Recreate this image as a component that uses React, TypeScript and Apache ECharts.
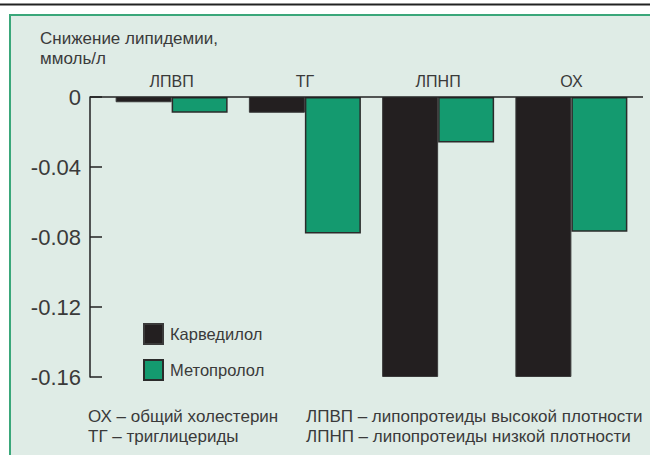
import React, { useEffect, useRef } from "react";
import * as echarts from "echarts";

const categories = ["ЛПВП", "ТГ", "ЛПНП", "ОХ"];
const carvedilol = [-0.003, -0.009, -0.16, -0.16];
const metoprolol = [-0.009, -0.078, -0.026, -0.077];
const seriesNames = ["Карведилол", "Метопролол"];
const yTicks = { min: -0.16, max: 0, interval: 0.04 };
const titleLines = ["Снижение липидемии,", "ммоль/л"];
const notesLeft = ["ОХ – общий холестерин", "ТГ – триглицериды"];
const notesRight = ["ЛПВП – липопротеиды высокой плотности", "ЛПНП – липопротеиды низкой плотности"];

const FONT = "Liberation Sans";
const TXT = "#3a3a3a";

export default function App() {
  const ref = useRef<HTMLDivElement>(null);
  useEffect(() => {
    document.body.style.margin = "0";
    const chart = echarts.init(ref.current!, null, { renderer: "svg" });
    const gridTop = 97;
    const gridBottom = 78;
    const multi = (lines: string[], left: number, top: number) => ({
      type: "text",
      left,
      top,
      style: { text: lines.join("\n"), fontSize: 17, lineHeight: 20, fontFamily: FONT, fill: TXT },
    });
    chart.setOption({
      animation: false,
      backgroundColor: "#ffffff",
      textStyle: { fontFamily: FONT },
      grid: { left: 105, right: 12, top: gridTop, bottom: gridBottom, containLabel: false },
      legend: {
        orient: "vertical",
        left: 143,
        top: 323,
        padding: 0,
        itemWidth: 19,
        itemHeight: 20,
        itemGap: 14,
        icon: "rect",
        textStyle: { fontFamily: FONT, fontSize: 16.5, color: TXT, padding: [0, 0, 0, 2] },
        data: seriesNames,
      },
      xAxis: {
        type: "category",
        data: categories,
        position: "top",
        axisLine: { show: false },
        axisTick: { show: false },
        axisLabel: { color: TXT, fontSize: 16, fontFamily: FONT, margin: 8 },
      },
      yAxis: {
        type: "value",
        min: yTicks.min,
        max: yTicks.max,
        interval: yTicks.interval,
        offset: 15,
        axisLine: { show: true, lineStyle: { color: "#222", width: 1.5 } },
        axisTick: { show: true, inside: true, length: 12, lineStyle: { color: "#222", width: 1.5 } },
        splitLine: { show: false },
        axisLabel: {
          color: TXT,
          fontSize: 22,
          fontFamily: FONT,
          margin: 9,
          formatter: (v: number) => (v === 0 ? "0" : v.toFixed(2)),
        },
      },
      series: [
        {
          name: seriesNames[0],
          type: "bar",
          data: carvedilol,
          barWidth: 56,
          barGap: "0%",
          itemStyle: { color: "#231f20", borderColor: "#3a3a3a", borderWidth: 1 },
        },
        {
          name: seriesNames[1],
          type: "bar",
          data: metoprolol,
          barWidth: 56,
          barGap: "0%",
          itemStyle: { color: "#149a6f", borderColor: "#2b2b2b", borderWidth: 1.5 },
        },
      ],
      graphic: [
        { type: "line", z: -10, shape: { x1: 0, y1: 4.5, x2: 650, y2: 4.5 }, style: { stroke: "#222", lineWidth: 2 } },
        { type: "rect", z: -10, shape: { x: 10, y: 15, width: 650, height: 450 }, style: { fill: "#dfece6", stroke: "#3aa77a", lineWidth: 2 } },
        { type: "line", z: 5, shape: { x1: 90, y1: gridTop, x2: 643, y2: gridTop }, style: { stroke: "#222", lineWidth: 1.5 } },
        multi(titleLines, 40, 28),
        multi(notesLeft, 88, 406),
        multi(notesRight, 306, 406),
      ],
    });
    return () => chart.dispose();
  }, []);
  return <div ref={ref} style={{ width: 650, height: 455, position: "absolute", left: 0, top: 0 }} />;
}
